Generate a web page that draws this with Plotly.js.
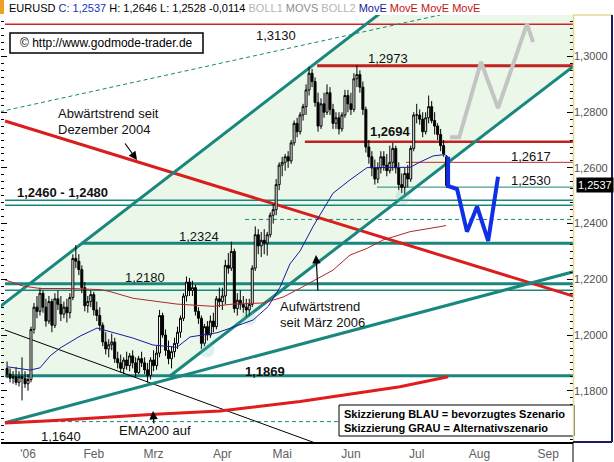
<!DOCTYPE html>
<html><head><meta charset="utf-8">
<script src="https://cdn.plot.ly/plotly-3.0.1.min.js"></script>
<style>html,body{margin:0;padding:0;background:#fff}#chart{width:614px;height:462px}</style>
</head><body><div id="chart"></div>
<script>
// ---------------- DATA (EURUSD daily, 22 Dec 2005 - 17 Jul 2006) ----------------
const firstIdx = -7;               // 22 Dec 2005 = trading day -7, 2 Jan 2006 = 0
const monthLabels = ["'06","Feb","Mrz","Apr","Mai","Jun","Jul","Aug","Sep"];

const open = [
 1.1880,1.1860,1.1845,1.1850,1.1830,1.1850,1.1845,
 1.1825,1.1840,1.2020,1.2100,1.2085,1.2150,1.2100,1.2050,1.2120,1.2035,1.2130,1.2110,1.2075,1.2100,1.2080,1.2135,1.2275,1.2265,1.2235,1.2170,1.2105,1.2120,
 1.2145,1.2090,1.2070,1.2035,1.1975,1.1950,1.1965,1.1975,1.1915,1.1900,1.1880,1.1910,1.1890,1.1925,1.1900,1.1865,1.1915,1.1900,1.1875,1.1855,
 1.1910,1.1890,1.1935,1.2070,1.2000,1.1945,1.1915,1.1940,1.1970,1.2010,1.2060,1.2140,1.2190,1.2160,1.2170,1.2085,1.2060,1.1970,1.2030,1.2000,1.2050,1.2030,1.2130,
 1.2120,1.2140,1.2250,1.2240,1.2300,1.2095,1.2125,1.2110,1.2100,1.2090,1.2110,1.2240,1.2360,1.2320,1.2340,1.2330,1.2360,1.2430,1.2450,1.2540,
 1.2610,1.2620,1.2640,1.2625,1.2690,1.2760,1.2730,1.2790,1.2820,1.2880,1.2940,1.2910,1.2835,1.2750,1.2830,1.2800,1.2870,1.2810,1.2760,1.2780,1.2740,1.2790,1.2860,
 1.2830,1.2810,1.2920,1.2935,1.2890,1.2810,1.2675,1.2640,1.2600,1.2560,1.2600,1.2640,1.2610,1.2590,1.2620,1.2670,1.2600,1.2540,1.2530,1.2580,1.2560,1.2670,
 1.2790,1.2790,1.2775,1.2730,1.2780,1.2820,1.2770,1.2750,1.2720,1.2680,1.2640];
const high = [
 1.1905,1.1880,1.1870,1.1885,1.1870,1.1920,1.1870,
 1.1860,1.2030,1.2115,1.2140,1.2170,1.2160,1.2130,1.2140,1.2130,1.2150,1.2160,1.2140,1.2120,1.2130,1.2150,1.2290,1.2323,1.2290,1.2250,1.2190,1.2140,1.2160,
 1.2155,1.2120,1.2100,1.2045,1.2010,1.1985,1.2005,1.1990,1.1940,1.1930,1.1920,1.1940,1.1935,1.1945,1.1920,1.1925,1.1940,1.1920,1.1900,1.1920,
 1.1945,1.1960,1.2090,1.2080,1.2020,1.1980,1.1960,1.1990,1.2030,1.2070,1.2150,1.2210,1.2205,1.2195,1.2180,1.2100,1.2070,1.2040,1.2050,1.2070,1.2080,1.2140,1.2170,
 1.2170,1.2270,1.2294,1.2335,1.2310,1.2150,1.2160,1.2140,1.2130,1.2130,1.2250,1.2390,1.2380,1.2370,1.2380,1.2370,1.2440,1.2470,1.2560,1.2620,
 1.2640,1.2650,1.2660,1.2700,1.2770,1.2780,1.2800,1.2830,1.2900,1.2963,1.2955,1.2925,1.2870,1.2850,1.2870,1.2900,1.2890,1.2830,1.2800,1.2800,1.2800,1.2880,1.2880,
 1.2870,1.2940,1.2969,1.2950,1.2910,1.2820,1.2700,1.2660,1.2630,1.2620,1.2660,1.2660,1.2650,1.2680,1.2690,1.2680,1.2620,1.2580,1.2600,1.2610,1.2680,1.2800,
 1.2830,1.2810,1.2800,1.2800,1.2860,1.2840,1.2800,1.2760,1.2740,1.2700,1.2646];
const low = [
 1.1845,1.1830,1.1825,1.1820,1.1815,1.1765,1.1810,
 1.1800,1.1830,1.2005,1.2060,1.2070,1.2080,1.2030,1.2040,1.2010,1.2025,1.2090,1.2050,1.2060,1.2045,1.2060,1.2125,1.2240,1.2215,1.2150,1.2085,1.2080,1.2100,
 1.2070,1.2050,1.2015,1.1960,1.1930,1.1920,1.1945,1.1900,1.1880,1.1865,1.1860,1.1875,1.1870,1.1880,1.1850,1.1860,1.1885,1.1860,1.1830,1.1840,
 1.1870,1.1875,1.1920,1.1990,1.1925,1.1895,1.1880,1.1920,1.1950,1.1990,1.2050,1.2120,1.2140,1.2140,1.2070,1.2040,1.1950,1.1960,1.1980,1.1990,1.2010,1.2020,1.2100,
 1.2090,1.2110,1.2220,1.2230,1.2080,1.2070,1.2090,1.2080,1.2065,1.2070,1.2100,1.2230,1.2290,1.2280,1.2290,1.2285,1.2350,1.2400,1.2430,1.2520,
 1.2570,1.2590,1.2600,1.2615,1.2680,1.2710,1.2720,1.2770,1.2790,1.2860,1.2890,1.2820,1.2730,1.2740,1.2780,1.2790,1.2790,1.2740,1.2740,1.2720,1.2730,1.2780,1.2800,
 1.2790,1.2800,1.2890,1.2870,1.2790,1.2655,1.2615,1.2570,1.2540,1.2545,1.2580,1.2590,1.2570,1.2580,1.2590,1.2580,1.2520,1.2510,1.2505,1.2530,1.2550,1.2660,
 1.2760,1.2755,1.2710,1.2720,1.2760,1.2760,1.2720,1.2700,1.2660,1.2640,1.2528];
const close = [
 1.1860,1.1845,1.1850,1.1830,1.1850,1.1845,1.1825,
 1.1840,1.2020,1.2100,1.2085,1.2150,1.2100,1.2050,1.2120,1.2035,1.2130,1.2110,1.2075,1.2100,1.2080,1.2135,1.2275,1.2265,1.2235,1.2170,1.2105,1.2120,1.2145,
 1.2090,1.2070,1.2035,1.1975,1.1950,1.1965,1.1975,1.1915,1.1900,1.1880,1.1910,1.1890,1.1925,1.1900,1.1865,1.1915,1.1900,1.1875,1.1855,1.1910,
 1.1890,1.1935,1.2070,1.2000,1.1945,1.1915,1.1940,1.1970,1.2010,1.2060,1.2140,1.2190,1.2160,1.2170,1.2085,1.2060,1.1970,1.2030,1.2000,1.2050,1.2030,1.2130,1.2120,
 1.2140,1.2250,1.2240,1.2300,1.2095,1.2125,1.2110,1.2100,1.2090,1.2110,1.2240,1.2360,1.2320,1.2340,1.2330,1.2360,1.2430,1.2450,1.2540,1.2610,
 1.2620,1.2640,1.2625,1.2690,1.2760,1.2730,1.2790,1.2820,1.2880,1.2940,1.2910,1.2835,1.2750,1.2830,1.2800,1.2870,1.2810,1.2760,1.2780,1.2740,1.2790,1.2860,1.2830,
 1.2810,1.2920,1.2935,1.2890,1.2810,1.2675,1.2640,1.2600,1.2560,1.2600,1.2640,1.2610,1.2590,1.2620,1.2670,1.2600,1.2540,1.2530,1.2580,1.2560,1.2670,1.2790,
 1.2790,1.2775,1.2730,1.2780,1.2820,1.2770,1.2750,1.2720,1.2680,1.2651,1.2537];

// moving averages (trading-day index, price)
const maBlueX = [-7.0,0.7,4.0,7.4,10.7,17.4,23.1,27.4,35.1,41.8,49.8,54.2,63.2,68.6,75.3,80.3,84.3,87.6,91.0,95.3,102.0,107.7,113.4,127.8,131.1,135.5,139.5,140.5];
const maBlueY = [1.1886,1.1874,1.1882,1.1925,1.1953,1.1996,1.2025,1.2013,1.1989,1.1964,1.1956,1.1993,1.2008,1.2028,1.2054,1.2102,1.2172,1.2255,1.2302,1.2389,1.2509,1.2557,1.2601,1.2602,1.2621,1.2643,1.2648,1.2636];
const maRedX = [-7.7,-1.7,4.0,14.1,24.1,27.4,35.1,40.8,49.8,61.9,68.6,78.6,85.3,91.0,94.3,102.0,107.7,113.4,118.7,127.8,137.8,139.8];
const maRedY = [1.2198,1.2176,1.2167,1.2167,1.2163,1.2156,1.2132,1.2124,1.2111,1.2103,1.2111,1.2115,1.2136,1.2168,1.2187,1.2233,1.2287,1.2311,1.2341,1.2371,1.2389,1.2393];
const ema200X = [-7.7,7.4,42.5,64.2,91.0,107.7,124.4,140.5];
const ema200Y = [1.1684,1.1692,1.1715,1.1727,1.1761,1.1788,1.1814,1.1850];

// scenario sketches
const blueScenX = [140.5,140.5,143.5,146.8,150.2,153.9,157.2];
const blueScenY = [1.2640,1.2535,1.2524,1.2371,1.2461,1.2338,1.2568];
const grayScenX = [141.1,144.2,151.5,157.2,166.9,168.9];
const grayScenY = [1.2710,1.2710,1.2980,1.2815,1.3117,1.3052];

// horizontal levels
const redLevels    = [1.3116,1.2967,1.2694,1.2620];
const redLevelFrom = [-7.7,96.7,92.6,126.4];
const tealLevels    = [1.2531,1.2484,1.2466,1.2415,1.2329,1.2184,1.2161,1.1854,1.1689];
const tealLevelFrom = [116.7,-7.7,-7.7,72.6,17.7,-7.7,-7.7,-7.7,-7.7];

// trend lines (two points each)
const chanUpperX = [-9.36,124.4],  chanUpperY = [1.2102,1.3210];
const chanLowerX = [47.49,191.3],  chanLowerY = [1.18528,1.30384];
const longUpX    = [-7.69,191.3],  longUpY    = [1.16851,1.22524];
const downRedX   = [-7.69,191.3],  downRedY   = [1.27684,1.21102];
const thinDownX  = [-7.69,97.66],  thinDownY  = [1.20180,1.16061];
const dotUpX     = [-9.36,137.8],  dotUpY     = [1.28018,1.31490];

// touch points on the up-trend
const touchX = [59.9,73.9,125.4];
const touchY = [1.1946,1.2061,1.2496];

// ---------------- LAYOUT HELPERS ----------------
const W = 614, H = 462, M = {l:1, r:41, t:15, b:20};
const PW = W - M.l - M.r, PH = H - M.t - M.b;
const px = x => (x - M.l) / PW;
const py = y => (H - M.b - y) / PH;
const xRange = [-9.03, 182.27];
const yRange = [1.16158, 1.31490];
const FONT = 'Liberation Sans, Arial, sans-serif';
const TEAL = '#19877d';

const dayIdx = open.map((_, i) => firstIdx + i);
const tickvals = [];
(function () {
  let idx = firstIdx, last = null;
  for (let t = Date.UTC(2005, 11, 22); t <= Date.UTC(2006, 8, 30); t += 86400000) {
    const d = new Date(t), wd = d.getUTCDay();
    if (wd === 0 || wd === 6) continue;
    const key = d.getUTCFullYear() * 12 + d.getUTCMonth();
    if (d.getUTCFullYear() === 2006 && key !== last) tickvals.push(idx);
    last = key; idx++;
  }
})();

// ---------------- SHAPES ----------------
const shapes = [];
// green channel fill
(function () {
  const su = (chanUpperY[1] - chanUpperY[0]) / (chanUpperX[1] - chanUpperX[0]);
  const fu = x => chanUpperY[0] + su * (x - chanUpperX[0]);
  const sl = (chanLowerY[1] - chanLowerY[0]) / (chanLowerX[1] - chanLowerX[0]);
  const fl = x => chanLowerY[0] + sl * (x - chanLowerX[0]);
  const xL = xRange[0], xR = xRange[1], yT = yRange[1];
  const xTop = chanUpperX[0] + (yT - chanUpperY[0]) / su;
  const base = tealLevels[7];
  const path = `M${xL},${fu(xL)} L${xTop},${yT} L${xR},${yT} L${xR},${fl(xR)} L${chanLowerX[0]},${chanLowerY[0]} L${xL},${base} Z`;
  shapes.push({type:'path', xref:'x', yref:'y', path, fillcolor:'#ebf8e9', line:{width:0}, layer:'below'});
})();
const seg = (xs, ys, color, width, dash) => ({type:'line', xref:'x', yref:'y', x0:xs[0], x1:xs[1], y0:ys[0], y1:ys[1],
  line:{color, width, dash: dash || 'solid'}, layer:'below'});
const tealW = [1, 1.5, 1.5, 1, 3, 3, 1.5, 3, 1];
const tealD = ['solid','solid','solid','4px,3px','solid','solid','solid','solid','4px,3px'];
tealLevels.forEach((v, i) => shapes.push(seg([tealLevelFrom[i], xRange[1]], [v, v], TEAL, tealW[i], tealD[i])));
const redW = [1.5, 3, 2.5, 1];
const redC = ['#d02020', '#c02222', '#c02222', '#c02a2a'];
redLevels.forEach((v, i) => shapes.push(seg([redLevelFrom[i], xRange[1]], [v, v], redC[i], redW[i])));
shapes.push(seg(dotUpX, dotUpY, TEAL, 1, '4px,3px'));
shapes.push(seg(thinDownX, thinDownY, '#000000', 1));
shapes.push(seg(downRedX, downRedY, '#d81e1e', 3));
shapes.push(seg(chanUpperX, chanUpperY, TEAL, 3));
shapes.push(seg(chanLowerX, chanLowerY, TEAL, 3));
shapes.push(seg(longUpX, longUpY, TEAL, 3));

// boxes & frame (paper coords)
const prect = (x0, y0, x1, y1, fill, lc, lw) => ({type:'rect', xref:'paper', yref:'paper', x0:px(x0), x1:px(x1), y0:py(y1), y1:py(y0),
  fillcolor: fill, line:{color: lc, width: lw}, layer:'above'});
const pline = (x0, y0, x1, y1, c, w) => ({type:'line', xref:'paper', yref:'paper', x0:px(x0), x1:px(x1), y0:py(y0), y1:py(y1), line:{color:c, width:w}, layer:'above'});
shapes.push(prect(10, 33, 203, 53, '#ffffff', '#000000', 1.5));
shapes.push(prect(339, 405, 574, 436, '#ffffff', '#000000', 1));
shapes.push(prect(0, 0, 4, 14, '#f0a020', '#f0a020', 0));
shapes.push(pline(573.5, 15, 573.5, 442, '#e8d890', 1.5));
shapes.push(pline(573, 15, 612, 15, '#e8d890', 1.5));
shapes.push(pline(612, 15, 612, 442, '#1a1a6a', 2));
shapes.push(pline(573, 442, 612, 442, '#1a1a6a', 2));
shapes.push(pline(573, 442, 573, 462, '#000000', 1));

// ---------------- ANNOTATIONS ----------------
const annotations = [];
const lab = (text, x, y, size, anchor, color) => annotations.push({text, xref:'paper', yref:'paper', x:px(x), y:py(y),
  xanchor: anchor || 'center', yanchor:'middle', showarrow:false, font:{family:FONT, size: size || 13, color: color || '#111'}});
lab('1,3130', 276, 35);
lab('1,2973', 388, 58.5);
lab('<b>1,2694</b>', 390, 131);
lab('1,2617', 531, 156);
lab('1,2530', 531, 180);
lab('<b>1,2460 - 1,2480</b>', 15, 192, 13, 'left');
lab('1,2324', 198.5, 236);
lab('1,2180', 145, 277);
lab('<b>1,1869</b>', 265, 371);
lab('1,1640', 61, 436);
lab('EMA200 auf', 155, 430);
lab('Abwärtstrend seit', 56, 113.5, 13, 'left');
lab('Dezember 2004', 56, 129.5, 13, 'left');
lab('Aufwärtstrend', 278, 306.5, 13, 'left');
lab('seit März 2006', 278, 322.5, 13, 'left');
lab('<b>Skizzierung BLAU = bevorzugtes Szenario</b>', 342, 414.3, 11, 'left', '#000');
lab('<b>Skizzierung GRAU = Alternativszenario</b>', 342, 428.3, 11, 'left', '#000');
lab('© http://www.godmode-trader.de', 106.5, 43.5, 12, 'center', '#000');
lab('EURUSD <span style="color:#1b2b8c">C: </span><span style="color:#1434c8">1,2537</span> H: 1,2646 L: 1,2528 -0,0114 ' +
    '<span style="color:#b4b4b4">BOLL1</span> <span style="color:#8c8c8c">MOVS</span> <span style="color:#b4b4b4">BOLL2</span> ' +
    '<span style="color:#1818a0">MovE</span> <span style="color:#c01414">MovE MovE MovE</span>', 7, 7.5, 11, 'left', '#000');
const arrow = (hx, hy, tx, ty) => annotations.push({text:'', xref:'paper', yref:'paper', x:px(hx), y:py(hy), ax:tx - hx, ay:ty - hy,
  showarrow:true, arrowhead:2, arrowsize:1.4, arrowwidth:1.2, arrowcolor:'#000'});
arrow(137, 160, 124, 142);
arrow(316, 255, 318, 292);
arrow(153, 411, 154, 425);
annotations.push({text:'1,2537', xref:'paper', yref:'y', x:px(594.5), y:close[close.length - 1], xanchor:'center', yanchor:'middle',
  showarrow:false, bgcolor:'#000', borderpad:1, font:{family:FONT, size:11, color:'#fff'}});

// ---------------- TRACES ----------------
const traces = [
  {type:'scatter', mode:'markers', x:touchX, y:touchY, marker:{size:15, color:'#5ab8aa', opacity:0.2, line:{width:0}}, hoverinfo:'skip'},
  {type:'candlestick', x:dayIdx, open, high, low, close, whiskerwidth:0,
   increasing:{line:{color:'#000', width:1}, fillcolor:'#ffffff'},
   decreasing:{line:{color:'#000', width:1}, fillcolor:'#000000'}},
  {type:'scatter', mode:'lines', x:maRedX, y:maRedY, line:{color:'#b02828', width:1}},
  {type:'scatter', mode:'lines', x:maBlueX, y:maBlueY, line:{color:'#1a1aa0', width:1}},
  {type:'scatter', mode:'lines', x:ema200X, y:ema200Y, line:{color:'#e01c1c', width:3}},
  {type:'scatter', mode:'lines', x:grayScenX, y:grayScenY, line:{color:'#c4c4c4', width:4}},
  {type:'scatter', mode:'lines', x:blueScenX, y:blueScenY, line:{color:'#1030e8', width:4}}
];

const layout = {
  width: W, height: H, margin: M, showlegend: false,
  paper_bgcolor:'#ffffff', plot_bgcolor:'#ffffff', separators: ',.', boxgap: 0.05,
  font:{family:FONT, size:11, color:'#000'},
  xaxis:{range:xRange, showgrid:false, zeroline:false, tickmode:'array', tickvals, ticktext:monthLabels,
    ticks:'', showline:true, linecolor:'#000', linewidth:1.5, tickfont:{family:FONT, size:12, color:'#606060'},
    rangeslider:{visible:false}, fixedrange:true},
  yaxis:{range:yRange, side:'right', showgrid:false, zeroline:false, tickformat:'.4f', tick0:1.18, dtick:0.02,
    ticks:'inside', ticklen:6, tickwidth:1, tickcolor:'#000', mirror:'ticks', showline:false,
    tickfont:{family:FONT, size:11, color:'#505050'},
    minor:{dtick:0.0025, ticks:'inside', ticklen:3, tickwidth:1, tickcolor:'#000', showgrid:false}, fixedrange:true},
  shapes, annotations
};
Plotly.newPlot('chart', traces, layout, {displayModeBar:false, staticPlot:true});
</script></body></html>
